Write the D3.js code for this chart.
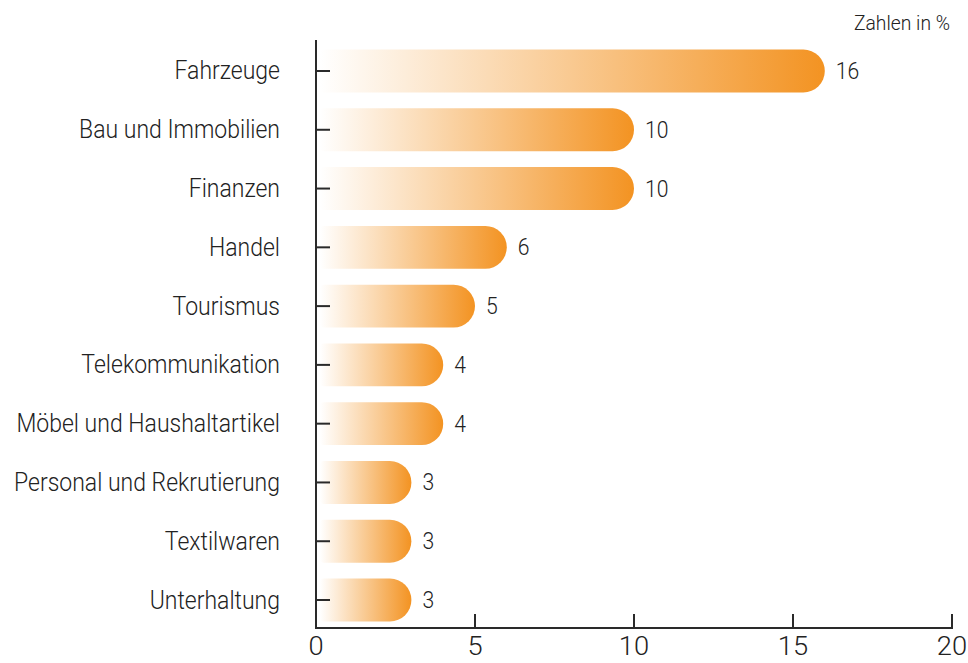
<!DOCTYPE html>
<html>
<head>
<meta charset="utf-8">
<script src="https://cdn.jsdelivr.net/npm/d3@7"></script>
<style>
	body { margin: 0; background: #fff; }
	text { font-family: Roboto, "Liberation Sans", sans-serif; font-weight: 300; fill: #222; }
</style>
</head>
<body>
<svg id="chart" width="968" height="663"></svg>
<script>

// Data
const categories = ["Fahrzeuge", "Bau und Immobilien", "Finanzen", "Handel", "Tourismus",
	"Telekommunikation", "Möbel und Haushaltartikel", "Personal und Rekrutierung", "Textilwaren", "Unterhaltung"];
const values = [16, 10, 10, 6, 5, 4, 4, 3, 3, 3];
const xTicks = [0, 5, 10, 15, 20];
const unitLabel = "Zahlen in %";

const squeeze = 0.92; // condensed look

// Condensed text helper
function addText(parent, x, y, str, size, anchor, sx) {
	return parent.append("g")
		.attr("transform", `translate(${x},${y}) scale(${sx || squeeze},1)`)
		.append("text")
		.attr("text-anchor", anchor)
		.style("font-size", size + "px")
		.text(str);
}

// Draw chart
function drawChart(svgId) {

	const svg = d3.select(svgId);

	const x = d3.scaleLinear().domain([0, 20]).range([316, 952]);
	const y = d3.scaleBand().domain(categories).range([41.6, 629.4]).paddingInner(0.27).paddingOuter(0.135);
	const axisY = 628;

	// Gradient per bar
	const grad = svg.append("defs").append("linearGradient")
		.attr("id", "barGrad")
		.attr("x1", "0%").attr("x2", "100%").attr("y1", "0%").attr("y2", "0%");
	grad.append("stop").attr("offset", "0%").attr("stop-color", "#ffffff");
	grad.append("stop").attr("offset", "100%").attr("stop-color", "#f39322");

	// Bars: flat left end, round right end
	const h = y.bandwidth();
	svg.append("g")
		.selectAll("path")
		.data(values)
		.join("path")
		.attr("fill", "url(#barGrad)")
		.attr("d", (d, i) => {
			const x0 = x(0) + 4, x1 = x(d), y0 = y(categories[i]), r = h / 2, rl = 4;
			return `M${x0 + rl},${y0} L${x1 - r},${y0} A${r},${r} 0 0 1 ${x1 - r},${y0 + h}
				L${x0 + rl},${y0 + h} A${rl},${rl} 0 0 1 ${x0},${y0 + h - rl} L${x0},${y0 + rl}
				A${rl},${rl} 0 0 1 ${x0 + rl},${y0} Z`;
		});

	// Value labels
	const vl = svg.append("g");
	values.forEach((d, i) => {
		addText(vl, x(d) + 11, y(categories[i]) + h / 2 + 8, d, 23, "start");
	});

	// Vertical axis
	svg.append("line")
		.attr("x1", x(0)).attr("x2", x(0))
		.attr("y1", 40).attr("y2", axisY + 1)
		.attr("stroke", "#2a2a2a").attr("stroke-width", 2);

	const yl = svg.append("g");
	categories.forEach(c => {
		const cy = y(c) + h / 2;
		yl.append("line")
			.attr("x1", x(0)).attr("x2", x(0) + 14)
			.attr("y1", cy).attr("y2", cy)
			.attr("stroke", "#2a2a2a").attr("stroke-width", 2);
		addText(yl, 280, cy + 8.5, c, 25, "end");
	});

	// Horizontal axis
	svg.append("line")
		.attr("x1", x(0) - 1).attr("x2", x(20) + 1)
		.attr("y1", axisY).attr("y2", axisY)
		.attr("stroke", "#2a2a2a").attr("stroke-width", 2);

	const xl = svg.append("g");
	xTicks.forEach(t => {
		if (t > 0) {
			xl.append("line")
				.attr("x1", x(t)).attr("x2", x(t))
				.attr("y1", axisY - 14).attr("y2", axisY)
				.attr("stroke", "#2a2a2a").attr("stroke-width", 2);
		}
		addText(xl, x(t), axisY + 27, t, 26, "middle", 1.05);
	});

	// Unit note
	addText(svg, 950, 30, unitLabel, 21, "end");
}

drawChart("#chart");
</script>
</body>
</html>
